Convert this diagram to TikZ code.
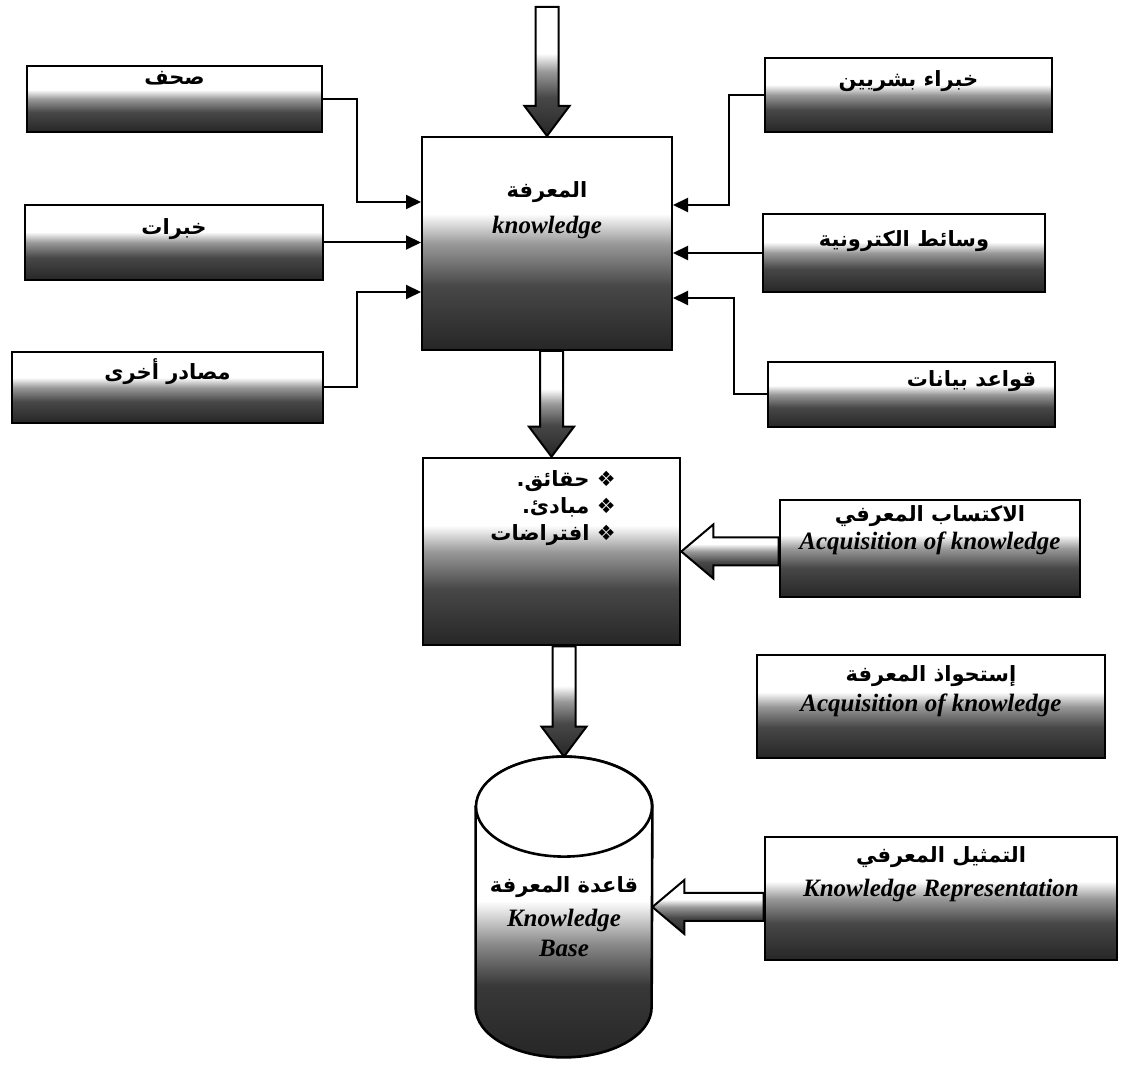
\documentclass[tikz,border=0pt]{standalone}
\usepackage{fontspec}
\setmainfont{Liberation Serif}
\newfontfamily\arabicfont[Script=Arabic]{DejaVu Sans}
\TeXXeTstate=1
\usetikzlibrary{arrows.meta, calc, positioning}

\pgfdeclareverticalshading{speckle}{100bp}{color(0bp)=(black!85); color(25bp)=(black!85); color(40bp)=(black!72); color(50bp)=(black!40); color(57bp)=(white); color(100bp)=(white)}
\pgfdeclareverticalshading{cylspeckle}{100bp}{color(0bp)=(black!85); color(25bp)=(black!85); color(37bp)=(black!78); color(44bp)=(black!45); color(51bp)=(white); color(100bp)=(white)}

\newcommand\ar[1]{\beginR #1\endR}

\tikzset{
srcbox/.style = {draw = black, line width = 1.3pt, shade, shading = speckle, inner sep = 0pt},
artxt/.style = {font = \arabicfont\bfseries\fontsize{10.5}{13.5}\selectfont, inner sep = 1pt},
entxt/.style = {font = \bfseries\itshape\fontsize{12.5}{15}\selectfont, inner sep = 1pt},
link/.style = {draw = black, line width = 1pt, -{Triangle[length = 7.5pt, width = 7pt]}},
blockarrow/.style = {draw = black, line width = 1pt, shade, shading = speckle},
}

% hollow block arrows between two anchors
\newcommand\blockdown[2]{%
  \path[blockarrow] let \p1 = (#1), \p2 = (#2) in
    (\x2-5.75pt, \y1) -- (\x2-5.75pt, \y2+15pt) -- (\x2-11.25pt, \y2+15pt) -- (\x2, \y2)
    -- (\x2+11.25pt, \y2+15pt) -- (\x2+5.75pt, \y2+15pt) -- (\x2+5.75pt, \y1) -- cycle;}
\newcommand\blockleft[2]{%
  \path[blockarrow] let \p1 = (#1), \p2 = (#2) in
    (\x1, \y2+7pt) -- (\x2+16pt, \y2+7pt) -- (\x2+16pt, \y2+13.5pt) -- (\x2, \y2)
    -- (\x2+16pt, \y2-13.5pt) -- (\x2+16pt, \y2-7pt) -- (\x1, \y2-7pt) -- cycle;}

\begin{document}
\begin{tikzpicture}[x = 0.5pt, y = -0.5pt]
  \path[fill = white, use as bounding box] (0, 0) rectangle (1136, 1068);

  % sources
  \node[srcbox, minimum width = 147.5pt, minimum height = 33pt] (sohof) at (174.5, 99) {};
  \node[srcbox, minimum width = 149pt, minimum height = 37.5pt] (khibrat) at (174, 242.5) {};
  \node[srcbox, minimum width = 155.5pt, minimum height = 35.5pt] (masader) at (167.5, 387.5) {};
  \node[srcbox, minimum width = 143.5pt, minimum height = 37pt] (khubara) at (908.5, 95) {};
  \node[srcbox, minimum width = 141pt, minimum height = 39pt] (wasait) at (904, 253) {};
  \node[srcbox, minimum width = 143.5pt, minimum height = 32.5pt] (qawaid) at (911.5, 394.5) {};

  % main column
  \node[srcbox, line width = 1pt, minimum width = 125pt, minimum height = 106.5pt] (know) at (547, 243.5) {};
  \node[srcbox, minimum width = 128.5pt, minimum height = 93.5pt] (usul) at (551.5, 551.5) {};
  \node[inner sep = 0pt, minimum width = 88pt, minimum height = 150pt] (kb) at (564, 907) {};
  \coordinate (feed) at (548, 7);

  % processes
  \node[srcbox, minimum width = 150pt, minimum height = 48.5pt] (iktisab) at (930, 548.5) {};
  \node[srcbox, minimum width = 174pt, minimum height = 51.5pt] (istihwath) at (931, 706.5) {};
  \node[srcbox, minimum width = 176pt, minimum height = 61.5pt] (tamthil) at (941, 898.5) {};

  % knowledge base cylinder
  \path[draw = black, line width = 1.3pt, shade, shading = cylspeckle]
    ($(kb.north west) + (0, 50)$) -- ($(kb.south west) + (0, -50)$)
    arc[start angle = 180, end angle = 0, x radius = 88, y radius = 50]
    -- ($(kb.north east) + (0, 50)$)
    arc[start angle = 0, end angle = -180, x radius = 88, y radius = 50] -- cycle;
  \draw[line width = 1.3pt, fill = white] ($(kb.north) + (0, 50)$) ellipse[x radius = 88, y radius = 50];

  % thin connectors
  \draw[link] (sohof.east) -- ++(34, 0) |- ([yshift = 20.75pt]know.west);
  \draw[link] (khibrat.east) -- (khibrat.east -| know.west);
  \draw[link] (masader.east) -- ++(33, 0) |- ([yshift = -24.25pt]know.west);
  \draw[link] (khubara.west) -- ++(-35, 0) |- ([yshift = 19.25pt]know.east);
  \draw[link] (wasait.west) -- (wasait.west -| know.east);
  \draw[link] (qawaid.west) -- ++(-33, 0) |- ([yshift = -27.25pt]know.east);

  % block arrows
  \blockdown{feed}{know.north}
  \blockdown{know.south}{usul.north}
  \blockdown{usul.south}{kb.north}
  \blockleft{iktisab.west}{usul.east}
  \blockleft{tamthil.west}{kb.east}

  % labels
  \node[artxt] (sohof-t) at ([yshift = -7pt]sohof.north) {\ar{صحف}};
  \node[artxt] (khibrat-t) at ([yshift = -12.5pt]khibrat.north) {\ar{خبرات}};
  \node[artxt] (masader-t) at ([yshift = -10.5pt]masader.north) {\ar{مصادر أخرى}};
  \node[artxt] (khubara-t) at ([yshift = -12pt]khubara.north) {\ar{خبراء بشريين}};
  \node[artxt] (wasait-t) at ([yshift = -14pt]wasait.north) {\ar{وسائط الكترونية}};
  \node[artxt] (qawaid-t) at ([xshift = 30pt, yshift = -10pt]qawaid.north) {\ar{قواعد بيانات}};

  \node[artxt] (know-a) at ([yshift = -28pt]know.north) {\ar{المعرفة}};
  \node[entxt] (know-e) at ([yshift = -45.5pt]know.north) {knowledge};

  \node[artxt, align = right, anchor = east] (usul-t) at (618, 508)
    {\ar{❖ حقائق.}\\ \ar{❖ مبادئ.}\\ \ar{❖ افتراضات}};

  \node[artxt] (iktisab-a) at ([yshift = -8.5pt]iktisab.north) {\ar{الاكتساب المعرفي}};
  \node[entxt] (iktisab-e) at ([yshift = -22.5pt]iktisab.north) {Acquisition of knowledge};
  \node[artxt] (istihwath-a) at ([yshift = -11pt]istihwath.north) {\ar{إستحواذ المعرفة}};
  \node[entxt] (istihwath-e) at ([yshift = -26pt]istihwath.north) {Acquisition of knowledge};
  \node[artxt] (tamthil-a) at ([yshift = -10.5pt]tamthil.north) {\ar{التمثيل المعرفي}};
  \node[entxt] (tamthil-e) at ([yshift = -27.5pt]tamthil.north) {Knowledge Representation};

  \node[artxt] (kb-a) at ([yshift = 10pt]kb.center) {\ar{قاعدة المعرفة}};
  \node[entxt] (kb-e1) at ([yshift = -6.5pt]kb.center) {Knowledge};
  \node[entxt] (kb-e2) at ([yshift = -20.5pt]kb.center) {Base};
\end{tikzpicture}
\end{document}
